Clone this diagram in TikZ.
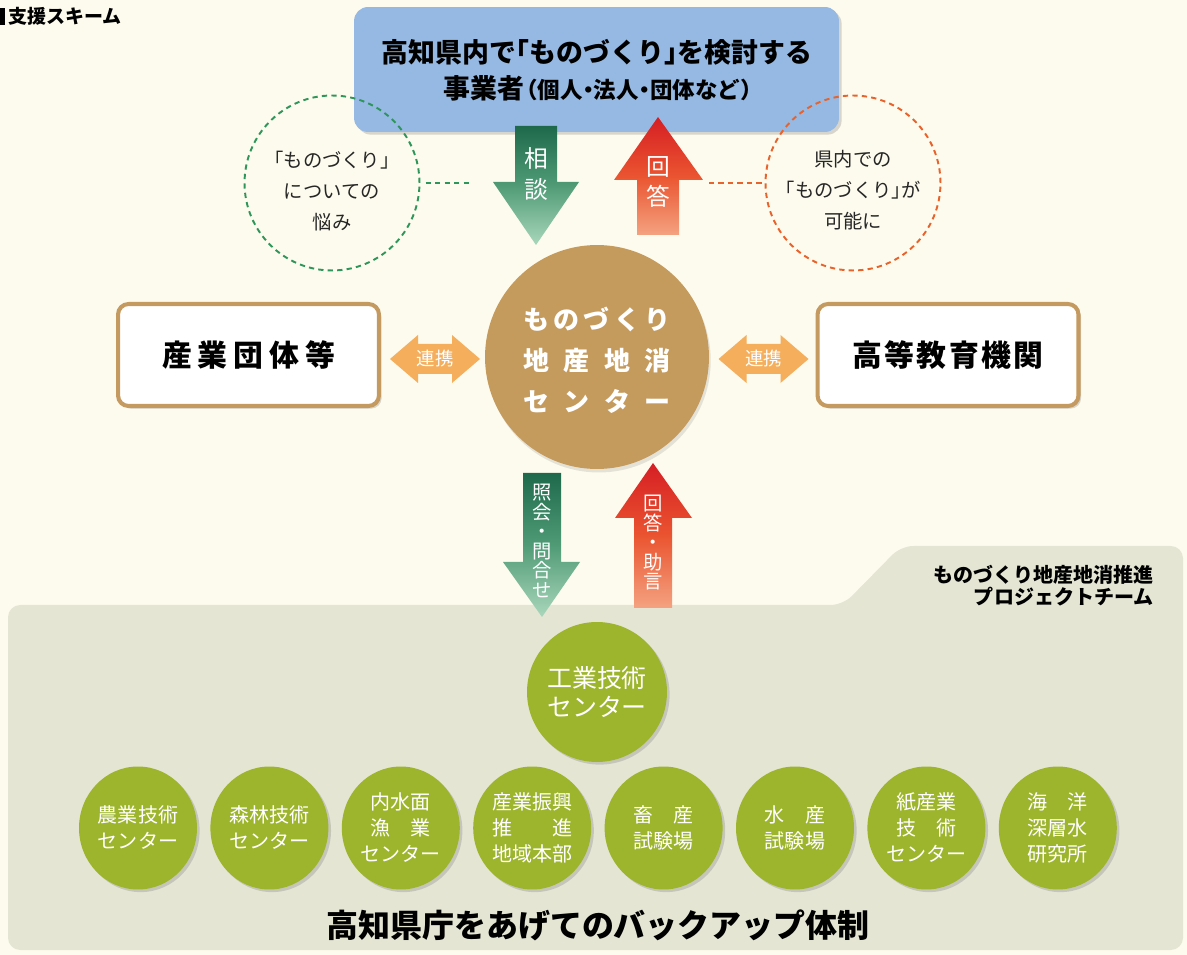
\documentclass[tikz,border=0pt]{standalone}
\usepackage{fontspec}
\setmainfont{Noto Sans CJK JP}
\usetikzlibrary{shadows,shapes.geometric}

\definecolor{bgcream}{RGB}{253,251,237}
\definecolor{userblue}{RGB}{149,185,227}
\definecolor{hubtan}{RGB}{197,155,93}
\definecolor{boxtan}{RGB}{196,154,96}
\definecolor{linkorange}{RGB}{244,174,92}
\definecolor{dashgreen}{RGB}{46,150,90}
\definecolor{dashorange}{RGB}{232,98,44}
\definecolor{panelgrey}{RGB}{228,229,211}
\definecolor{olive}{RGB}{157,181,45}
\definecolor{askdark}{RGB}{30,105,75}
\definecolor{askmid}{RGB}{80,155,118}
\definecolor{asklight}{RGB}{170,215,188}
\definecolor{ansred}{RGB}{214,30,36}
\definecolor{ansmid}{RGB}{234,84,48}
\definecolor{anslight}{RGB}{244,162,128}

\newcommand{\setfs}[2]{\fontsize{#1}{#2}\selectfont}
\newcommand{\spreadline}[1]{\makebox[2.96cm][s]{#1}}
\newcommand{\halfpunct}{\addfontfeatures{RawFeature=+halt}}

\tikzset{
  softshadow/.style={drop shadow={opacity=0.3, shadow xshift=1.5pt, shadow yshift=-1.5pt}},
  userbox/.style={rectangle, rounded corners=8pt, fill=userblue, minimum width=9.7cm, minimum height=2.5cm, softshadow},
  usertext/.style={inner sep=0pt, font=\bfseries\halfpunct\setfs{#1}{18}},
  thought/.style={circle, draw=#1, dash pattern=on 3pt off 2.4pt, line width=1.1pt, minimum size=3.5cm, inner sep=0pt},
  thoughttext/.style={align=center, inner sep=0pt, text=black!85, font=\halfpunct\setfs{11}{17.6}},
  thoughtline/.style={draw=#1, dash pattern=on 3pt off 2.4pt, line width=1.1pt},
  partner/.style={rectangle, rounded corners=6pt, draw=boxtan, line width=2.3pt, fill=white, minimum width=5.22cm, minimum height=2.04cm, font=\bfseries\setfs{17}{20}, softshadow},
  hub/.style={circle, fill=hubtan, minimum size=4.48cm, inner sep=0pt, drop shadow={opacity=0.2, shadow xshift=1pt, shadow yshift=-2pt}},
  hubtext/.style={text=white, align=center, inner sep=0pt, font=\bfseries\setfs{14.8}{23.3}},
  arrowtext/.style={text=white, align=center, inner sep=0pt, font=\setfs{13.5}{17.5}},
  vtext/.style={text=white, align=center, inner sep=0pt, font=\setfs{11}{11.1}},
  linktext/.style={text=white, inner sep=0pt, font=\setfs{10.5}{12}},
  core/.style={circle, fill=olive, minimum size=2.8cm, inner sep=0pt, align=center, text=white, font=\setfs{14.2}{16.5}, softshadow},
  inst/.style={ellipse, fill=olive, minimum width=2.36cm, minimum height=2.46cm, inner sep=0pt, align=center, text=white, font=\setfs{11.4}{14.8}, softshadow},
}

\begin{document}
\begin{tikzpicture}[x=0.02cm, y=-0.02cm]
  \useasboundingbox (0,0) rectangle (1187,955);
  \fill[bgcream] (0,0) rectangle (1187,955);

  % title
  \fill (0,8) rectangle (5,25);
  \node[anchor=west, inner sep=0pt, font=\bfseries\setfs{10.8}{12}] (scheme) at (8,16.5) {支援スキーム};

  % project team panel
  \fill[panelgrey, rounded corners=7pt] (8,605) -- (843,605) -- (901,546) -- (1183,546) -- (1183,950) -- (8,950) -- cycle;
  \node[anchor=east, align=right, inner sep=0pt, font=\bfseries\setfs{11.4}{12.6}] (team) at (1154,586) {ものづくり地産地消推進\\プロジェクトチーム};

  % top
  \node[userbox] (user) at (596.5,69.5) {};
  \node[usertext=15.3] (usertop) at (597,52) {高知県内で「ものづくり」を検討する};
  \node[usertext=15.3, anchor=west] (userlead) at (443,88) {事業者};
  \node[usertext=12.8, anchor=base west] (userkind) at ([xshift=1pt]userlead.base east) {（個人・法人・団体など）};

  \node[thought=dashgreen] (worry) at (332,183) {};
  \node[thought=dashorange] (possible) at (853,183) {};
  \node[thoughttext] (worrytext) at (332,191) {「ものづくり」\\についての\\悩み};
  \node[thoughttext] (possibletext) at (853,190) {県内での\\「ものづくり」が\\可能に};
  \coordinate (worryend) at (471,183);
  \coordinate (possibleend) at (709,183);
  \draw[thoughtline=dashgreen, shorten <=3pt] (worry.east) -- (worryend);
  \draw[thoughtline=dashorange] (possibleend) -- (possible.west);

  % middle
  \node[partner] (industry) at (248.5,355) {\makebox[3.46cm][s]{産\hfil 業\hfil 団\hfil 体\hfil 等}};
  \node[partner] (academia) at (948,355) {\makebox[3.82cm][s]{高\hfil 等\hfil 教\hfil 育\hfil 機\hfil 関}};
  \node[hub] (hub) at (597,357) {};
  \node[hubtext] (hubtext) at (597,360) {\spreadline{も\hfil の\hfil づ\hfil く\hfil り}\\\spreadline{地\hfil 産\hfil 地\hfil 消}\\\spreadline{セ\hfil ン\hfil タ\hfil ー}};

  \foreach \cx/\nm in {435/linkleft,763.5/linkright}{
    \fill[linkorange, shift={(\cx,359)}] (-45,0) -- (-17,-24) -- (-17,-15) -- (17,-15) -- (17,-24) -- (45,0) -- (17,24) -- (17,15) -- (-17,15) -- (-17,24) -- cycle;
    \node[linktext] (\nm) at (\cx,359) {連携};
  }

  % block arrows
  \path[top color=askdark, bottom color=asklight, middle color=askmid] (515,126) -- (557,126) -- (557,182) -- (579,182) -- (536,245) -- (493,182) -- (515,182) -- cycle;
  \path[top color=ansred, bottom color=anslight, middle color=ansmid] (658,117) -- (703,180) -- (679,180) -- (679,235) -- (637,235) -- (637,180) -- (614,180) -- cycle;
  \path[top color=askdark, bottom color=asklight, middle color=askmid] (523,473) -- (561,473) -- (561,562) -- (580,562) -- (542,617) -- (503,562) -- (523,562) -- cycle;
  \path[top color=ansred, bottom color=anslight, middle color=ansmid] (653,463) -- (692,518) -- (672,518) -- (672,608) -- (634,608) -- (634,518) -- (615,518) -- cycle;

  \node[arrowtext] (ask) at (536,174) {相\\談};
  \node[arrowtext] (answer) at (658,182) {回\\答};
  \node[vtext] (inquiry) at (542,541) {照\\会\\・\\問\\合\\せ};
  \node[vtext] (advice) at (653,543) {回\\答\\・\\助\\言};

  % bottom
  \node[core] (tech) at (597,692) {工業技術\\センター};
  \foreach \i/\t in {1/{農業技術\\センター}, 2/{森林技術\\センター}, 3/{内水面\\漁　業\\センター}, 4/{産業振興\\推　　進\\地域本部}, 5/{畜　産\\試験場}, 6/{水　産\\試験場}, 7/{紙産業\\技　術\\センター}, 8/{海　洋\\深層水\\研究所}}
    \node[inst] (inst\i) at ({138+131.4*(\i-1)},828) {\t};

  \node[inner sep=0pt, font=\bfseries\setfs{18.2}{20}] (backup) at (598,925) {高知県庁をあげてのバックアップ体制};
\end{tikzpicture}
\end{document}
